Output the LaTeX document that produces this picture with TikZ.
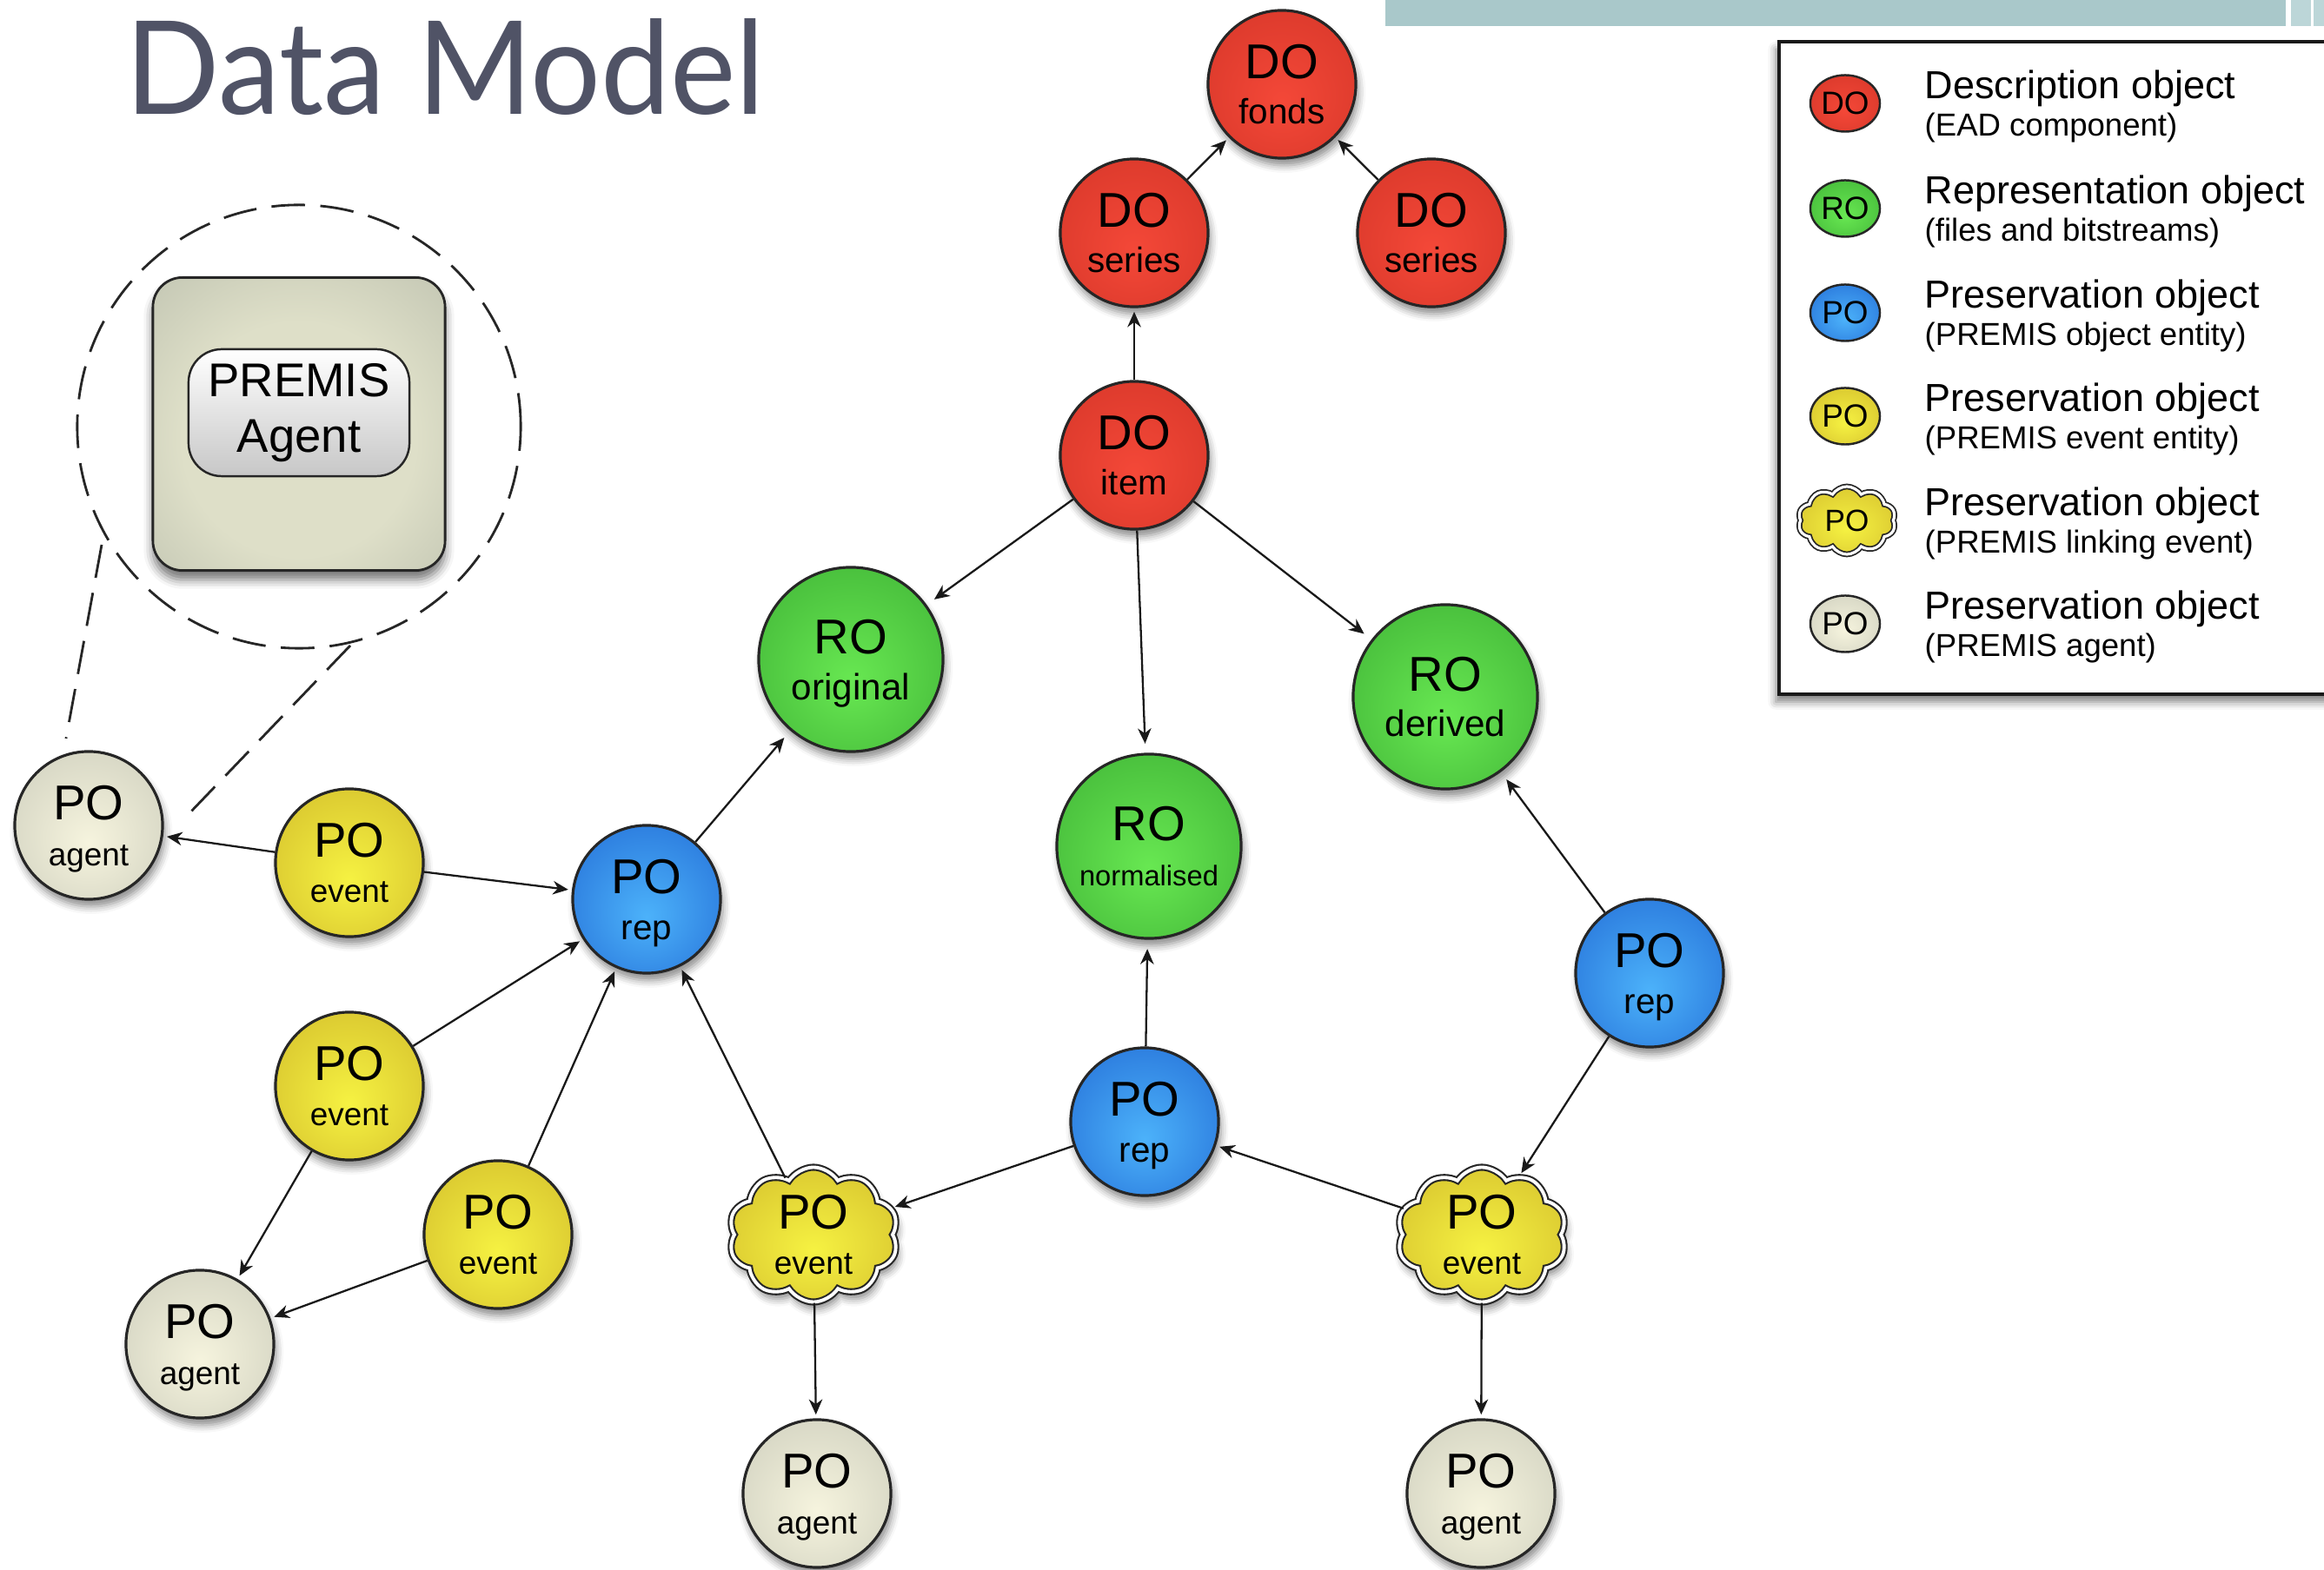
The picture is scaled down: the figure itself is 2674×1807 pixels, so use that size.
\documentclass[tikz,border=0pt]{standalone}
\usepackage{fontspec}
\setmainfont{Liberation Sans}
\newfontfamily\titlefont{Lato}
\usetikzlibrary{shapes.geometric,shapes.symbols,arrows.meta,shadows.blur}
\definecolor{titlec}{RGB}{80,83,102}
\definecolor{barc}{RGB}{169,200,202}
\definecolor{barlight}{RGB}{188,214,216}
\definecolor{redA}{RGB}{244,72,56}\definecolor{redB}{RGB}{220,58,44}\definecolor{redC}{RGB}{178,40,30}
\definecolor{grnA}{RGB}{104,232,82}\definecolor{grnB}{RGB}{72,190,60}\definecolor{grnC}{RGB}{44,148,40}
\definecolor{bluA}{RGB}{76,178,250}\definecolor{bluB}{RGB}{44,124,222}\definecolor{bluC}{RGB}{26,84,190}
\definecolor{yelA}{RGB}{246,242,66}\definecolor{yelB}{RGB}{218,200,48}\definecolor{yelC}{RGB}{182,158,30}
\definecolor{gryA}{RGB}{246,244,222}\definecolor{gryB}{RGB}{214,214,196}\definecolor{gryC}{RGB}{176,178,162}
\definecolor{boxA}{RGB}{222,223,200}\definecolor{boxC}{RGB}{160,166,152}
\pgfdeclareradialshading{redball}{\pgfpoint{0bp}{-6bp}}{color(0bp)=(redA);color(30bp)=(redB);color(50bp)=(redC)}
\pgfdeclareradialshading{grnball}{\pgfpoint{0bp}{-6bp}}{color(0bp)=(grnA);color(30bp)=(grnB);color(50bp)=(grnC)}
\pgfdeclareradialshading{bluball}{\pgfpoint{0bp}{-6bp}}{color(0bp)=(bluA);color(30bp)=(bluB);color(50bp)=(bluC)}
\pgfdeclareradialshading{yelball}{\pgfpoint{0bp}{-6bp}}{color(0bp)=(yelA);color(30bp)=(yelB);color(50bp)=(yelC)}
\pgfdeclareradialshading{gryball}{\pgfpoint{0bp}{-6bp}}{color(0bp)=(gryA);color(30bp)=(gryB);color(50bp)=(gryC)}
\pgfdeclareradialshading{boxball}{\pgfpoint{0bp}{-4bp}}{color(0bp)=(boxA);color(20bp)=(boxA);color(60bp)=(boxC)}
\tikzset{
  shadowed/.style={blur shadow={shadow xshift=0.8pt,shadow yshift=-2.4pt,shadow opacity=45,shadow blur radius=2.4pt}},
  obj/.style={circle,draw=black!85,line width=0.9pt,minimum size=1.7cm,inner sep=0pt,align=center,shadowed,
    font=\fontsize{11.5}{15}\selectfont},
  bigobj/.style={obj,minimum size=2.12cm},
  dob/.style={obj,shading=redball},
  rob/.style={bigobj,shading=grnball},
  pob/.style={obj,shading=bluball},
  evb/.style={obj,shading=yelball,font=\fontsize{10.5}{15}\selectfont},
  agb/.style={obj,shading=gryball,font=\fontsize{10.5}{15}\selectfont},
  cloudb/.style={cloud,cloud puffs=10,cloud puff arc=115,cloud ignores aspect,minimum width=1.95cm,minimum height=1.55cm,
    inner sep=0pt,draw=black!85,line width=0.6pt,double=white,double distance=1.1pt,shading=yelball,align=center,shadowed,
    font=\fontsize{10.5}{15}\selectfont},
  conn/.style={-{Stealth[length=5pt,width=4.4pt,inset=1.6pt]},line width=0.65pt,black!90,shorten >=1.2pt},
  connro/.style={conn,shorten >=3pt},
  callout/.style={draw=black!85,line width=0.8pt,dash pattern=on 11pt off 5pt},
  lgico/.style={ellipse,draw=black!85,line width=0.7pt,minimum width=0.8cm,minimum height=0.65cm,inner sep=0pt,
    font=\fontsize{10.5}{10}\selectfont},
  lgtitle/.style={anchor=base west,inner sep=0pt,font=\fontsize{12.8}{14}\selectfont},
  lgsub/.style={anchor=base west,inner sep=0pt,font=\fontsize{10.4}{12}\selectfont},
}
\newcommand\mn[1]{{\fontsize{16}{15}\selectfont #1}}
\begin{document}
\begin{tikzpicture}[x=0.01cm,y=-0.01cm]
\useasboundingbox (0,0) rectangle (2674,1807);
% top bar
\fill[barc] (1594,0) rectangle (2630,30);
\fill[barlight] (2636,0) rectangle (2674,30);
\fill[white] (2659,0) rectangle (2662,30);
% title
\node[anchor=base west,inner sep=0pt,text=titlec] (title) at (144,132) {\scalebox{0.955}[1]{\titlefont\fontsize{42.5}{42.5}\selectfont Data Model}};
% legend
\node[draw=black!90,line width=1pt,fill=white,minimum width=6.6cm,minimum height=7.51cm,anchor=north west,
  blur shadow={shadow xshift=-1pt,shadow yshift=-2.5pt,shadow opacity=50,shadow blur radius=2.5pt}] (legend) at (2045,46) {};
\node[lgico,shading=redball] (lg1) at (2123,119) {DO};
\node[lgico,shading=grnball] (lg2) at (2123,240) {RO};
\node[lgico,shading=bluball] (lg3) at (2123,360) {PO};
\node[lgico,shading=yelball] (lg4) at (2123,479) {PO};
\node[cloud,cloud puffs=10,cloud puff arc=115,cloud ignores aspect,minimum width=1.12cm,minimum height=0.78cm,inner sep=0pt,
  draw=black!85,line width=0.5pt,double=white,double distance=0.9pt,shading=yelball,font=\fontsize{10}{10}\selectfont] (lg5) at (2125,599) {PO};
\node[lgico,shading=gryball] (lg6) at (2123,718) {PO};
\node[lgtitle] (lt1) at (2214,114) {Description object};
\node[lgsub] (ls1) at (2214,157) {(EAD component)};
\node[lgtitle] (lt2) at (2214,235) {Representation object};
\node[lgsub] (ls2) at (2214,278) {(files and bitstreams)};
\node[lgtitle] (lt3) at (2214,355) {Preservation object};
\node[lgsub] (ls3) at (2214,398) {(PREMIS object entity)};
\node[lgtitle] (lt4) at (2214,474) {Preservation object};
\node[lgsub] (ls4) at (2214,517) {(PREMIS event entity)};
\node[lgtitle] (lt5) at (2214,594) {Preservation object};
\node[lgsub] (ls5) at (2214,637) {(PREMIS linking event)};
\node[lgtitle] (lt6) at (2214,713) {Preservation object};
\node[lgsub] (ls6) at (2214,756) {(PREMIS agent)};
% PREMIS agent callout
\node[circle,callout,minimum size=5.1cm,inner sep=0pt] (callc) at (344,491) {};
\coordinate (cl1a) at (117,627); \coordinate (cl1b) at (76,850);
\coordinate (cl2a) at (403,743); \coordinate (cl2b) at (217,937);
\draw[callout] (cl1a) -- (cl1b);
\draw[callout] (cl2a) -- (cl2b);
\node[rounded corners=0.34cm,draw=black!85,line width=0.8pt,shading=boxball,minimum width=3.36cm,minimum height=3.37cm,
  blur shadow={shadow xshift=0pt,shadow yshift=-3pt,shadow opacity=55,shadow blur radius=3pt}] (pbox) at (344,488) {};
\node[rounded corners=0.38cm,draw=black!85,line width=0.7pt,top color=white,bottom color=black!22,minimum width=2.54cm,
  minimum height=1.46cm,align=center,inner sep=0pt,font=\fontsize{15.5}{18}\selectfont] (plbl) at (344,475) {PREMIS\\Agent};
% nodes
\node[dob] (fonds) at (1475,97) {\mn{DO}\\fonds};
\node[dob] (serL) at (1305,268) {\mn{DO}\\series};
\node[dob] (serR) at (1647,268) {\mn{DO}\\series};
\node[dob] (item) at (1305,524) {\mn{DO}\\item};
\node[rob,font=\fontsize{12}{15}\selectfont] (roO) at (979,759) {\mn{RO}\\\smash{original}};
\node[rob,font=\fontsize{12}{15}\selectfont] (roD) at (1663,802) {\mn{RO}\\derived};
\node[rob,font=\fontsize{9.3}{15}\selectfont] (roN) at (1322,974) {\mn{RO}\\normalised};
\node[pob] (repL) at (744,1035) {\mn{PO}\\\smash{rep}};
\node[pob] (repR) at (1898,1120) {\mn{PO}\\\smash{rep}};
\node[pob] (repM) at (1317,1291) {\mn{PO}\\\smash{rep}};
\node[agb] (agL) at (102,950) {\mn{PO}\\\smash{agent}};
\node[evb] (ev1) at (402,993) {\mn{PO}\\event};
\node[evb] (ev2) at (402,1250) {\mn{PO}\\event};
\node[evb] (ev3) at (573,1421) {\mn{PO}\\event};
\node[agb] (agBL) at (230,1547) {\mn{PO}\\\smash{agent}};
\node[cloudb] (clL) at (936,1421) {\mn{PO}\\event};
\node[cloudb] (clR) at (1705,1421) {\mn{PO}\\event};
\node[agb] (agBM) at (940,1719) {\mn{PO}\\\smash{agent}};
\node[agb] (agBR) at (1704,1719) {\mn{PO}\\\smash{agent}};
% connectors
\draw[conn] (serL) -- (fonds);
\draw[conn] (serR) -- (fonds);
\draw[conn] (item) -- (serL);
\draw[connro] (item) -- (roO);
\draw[connro] (item) -- (roN);
\draw[connro] (item) -- (roD);
\draw[connro] (repL) -- (roO);
\draw[conn] (ev1) -- (agL);
\draw[conn] (ev1) -- (repL);
\draw[conn] (ev2) -- (repL);
\draw[conn] (ev2) -- (agBL);
\draw[conn] (ev3) -- (repL);
\draw[conn] (ev3) -- (agBL);
\draw[conn] (clL) -- (repL);
\draw[conn] (clL) -- (agBM);
\draw[conn] (repM) -- (clL);
\draw[connro] (repM) -- (roN);
\draw[conn] (clR) -- (repM);
\draw[conn] (clR) -- (agBR);
\draw[conn] (repR) -- (clR);
\draw[connro] (repR) -- (roD);
\end{tikzpicture}
\end{document}
